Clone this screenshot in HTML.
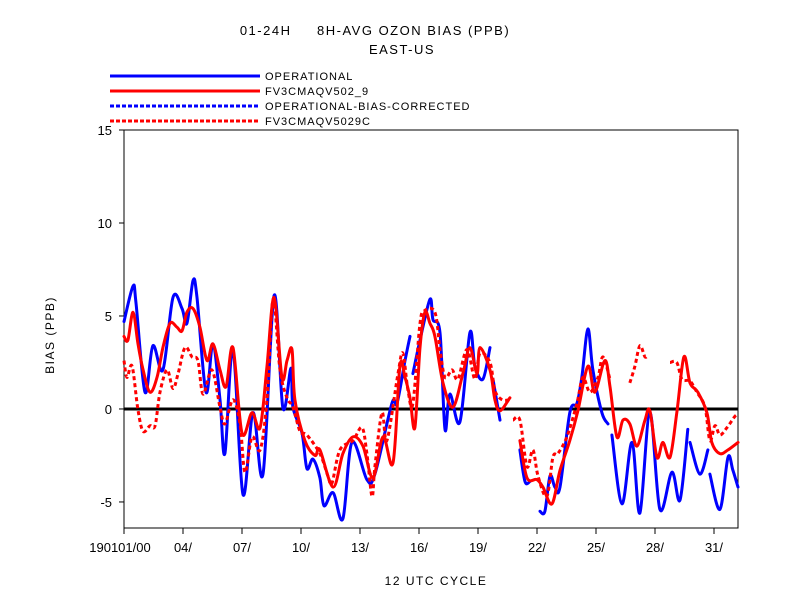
<!DOCTYPE html>
<html><head><meta charset="utf-8"><style>
body{margin:0;background:#fff;}
svg{display:block;font-family:"Liberation Sans",sans-serif;}
text{fill:#000;white-space:pre;}
</style></head><body>
<svg id="chart" width="792" height="612" viewBox="0 0 792 612">
<text x="375" y="35" text-anchor="middle" font-size="13" letter-spacing="1.5" xml:space="preserve">01-24H     8H-AVG OZON BIAS (PPB)</text>
<text x="402" y="54" text-anchor="middle" font-size="13" letter-spacing="1.5">EAST-US</text>
<g id="legend"></g>
<rect x="124" y="130" width="614" height="398" fill="none" stroke="#000" stroke-width="1"/>
<g id="axes"></g>
<g id="series"></g>
<text x="54" y="335" text-anchor="middle" font-size="12" letter-spacing="1.5" transform="rotate(-90 54 335)">BIAS (PPB)</text>
<text x="436" y="585" text-anchor="middle" font-size="12" letter-spacing="1.5">12 UTC CYCLE</text>
</svg>
<script>
const yTicks=[-5,0,5,10,15];
const xTickDays=[1,4,7,10,13,16,19,22,25,28,31];
const xTickLabels=["190101/00","04/","07/","10/","13/","16/","19/","22/","25/","28/","31/"];
const legendNames=["OPERATIONAL","FV3CMAQV502_9","OPERATIONAL-BIAS-CORRECTED","FV3CMAQV5029C"];

const opDays=[1.0,1.46,1.61,2.07,2.47,2.98,3.49,3.95,4.2,4.51,4.71,5.17,5.52,5.88,6.13,6.54,7.05,7.56,8.07,8.63,9.08,9.49,9.59,10.05,10.3,10.61,10.96,11.17,11.63,12.13,12.59,13.35,13.76,14.62,14.88,15.29,15.54,15.6,15.69,16.05,16.56,16.71,17.07,17.32,17.57,18.08,18.59,18.84,19.25,19.61,19.7,19.76,20.12,20.6,21.13,21.39,21.64,21.9,22.15,22.4,22.66,22.91,23.17,23.67,24.03,24.28,24.59,24.84,25.3,25.61,25.7,25.81,26.32,26.83,27.23,27.74,28.25,28.86,29.27,29.67,29.72,29.78,30.28,30.69,30.74,30.79,31.3,31.71,31.96,32.22];
const opVals=[4.7,6.6,5.7,0.9,3.4,2.1,6.0,5.4,4.6,6.9,6.0,0.9,3.5,0.5,-2.4,3.2,-4.6,-0.2,-3.5,6.1,0.05,2.2,0.1,-1.3,-3.2,-2.7,-3.7,-5.2,-4.5,-5.9,-1.8,-3.8,-3.5,0.3,0.3,2.6,3.9,null,1.9,3.7,5.9,4.8,4.1,-1.1,0.8,-0.7,4.1,2.3,1.6,3.3,null,1.6,-0.6,null,-2.2,-3.9,-3.9,null,-5.5,-5.5,-3.6,-4.2,-4.2,-0.2,0.3,1.7,4.3,2.1,-0.2,-0.8,null,-1.4,-5.1,-1.8,-5.6,-0.2,-5.4,-3.4,-4.9,-1.1,null,-1.8,-3.5,-2.2,null,-3.5,-5.4,-2.6,-3.3,-4.2];

const fvDays=[1.0,1.2,1.46,1.71,1.97,2.32,2.68,2.98,3.34,3.69,3.95,4.2,4.51,4.86,5.22,5.52,5.88,6.19,6.54,7.0,7.51,7.92,8.27,8.63,9.03,9.29,9.54,9.69,10.2,10.71,10.96,11.63,12.13,12.64,13.15,13.66,14.17,14.68,15.03,15.29,15.54,15.79,16.05,16.3,16.56,16.81,17.22,17.73,18.23,18.59,18.95,19.1,19.61,19.86,20.12,20.62,20.7,21.13,21.49,21.99,22.3,22.76,23.17,23.67,24.08,24.59,24.94,25.45,25.71,26.06,26.37,26.72,27.08,27.49,27.74,28.1,28.4,28.76,29.11,29.47,29.78,30.18,30.64,30.89,31.3,31.71,32.22];
const fvVals=[3.9,3.7,5.2,3.5,2.1,0.9,1.7,3.3,4.6,4.4,4.2,5.2,5.4,4.4,2.6,3.5,2.1,1.2,3.3,-1.3,-0.2,-1.0,2.3,6.0,1.7,2.6,3.2,0.5,-1.7,-2.5,-2.2,-4.2,-2.4,-1.5,-2.0,-3.7,-1.5,-2.9,2.3,1.7,0.6,-1.0,3.3,5.2,4.6,3.9,1.4,0.1,1.9,3.3,1.9,3.3,2.1,0.5,-0.1,0.6,null,-1.7,-3.7,-3.8,-4.2,-5.1,-3.3,-1.7,-0.1,2.3,0.9,2.6,1.2,-1.5,-0.6,-0.8,-2.0,-0.6,-0.1,-2.6,-1.8,-2.6,-0.2,2.8,1.4,0.9,-0.2,-1.8,-2.4,-2.2,-1.8];

const fvcDays=[1.0,1.15,1.41,1.71,1.97,2.32,2.58,2.83,3.19,3.49,3.75,4.1,4.46,4.76,5.02,5.47,5.88,6.13,6.54,6.9,7.15,7.51,7.92,8.27,8.58,8.93,9.29,9.59,9.95,10.3,10.96,11.37,11.57,11.98,12.64,13.1,13.35,13.61,13.76,14.12,14.37,14.93,15.18,15.44,15.69,16.05,16.3,16.81,17.07,17.32,17.68,17.98,18.44,18.84,19.1,19.61,19.86,20.22,20.62,20.7,20.78,21.13,21.49,21.79,22.05,22.5,22.81,23.06,23.52,24.03,24.33,24.69,25.1,25.35,25.71,26.2,26.72,26.98,27.23,27.49,27.64,28.2,28.76,29.11,29.37,29.78,30.13,30.54,30.79,31.05,31.3,31.66,32.06,32.22];
const fvcVals=[2.6,1.7,2.3,-0.05,-1.2,-0.9,-0.9,0.9,2.1,1.1,1.9,3.3,2.8,2.6,0.8,2.1,0.1,-0.8,0.5,-0.8,-3.4,-1.5,-2.2,0.5,5.9,2.1,0.6,0.1,-1.2,-1.4,-2.4,-3.6,-4.0,-2.2,-1.7,-1.0,-2.4,-4.7,-3.1,-0.2,-1.7,1.9,3.0,1.0,0.3,4.6,5.3,5.2,3.2,1.7,2.1,1.6,3.2,1.6,3.0,2.5,1.0,0.5,0.5,null,-0.6,-0.6,-3.1,-2.2,-3.6,-4.7,-2.6,-2.4,-1.5,0.3,1.7,0.9,1.7,2.8,1.6,null,1.4,2.3,3.4,2.8,2.9,null,2.5,2.5,1.6,1.5,0.9,0.1,-1.7,-0.9,-1.4,-1.0,-0.4,-0.3];

const X0=124,X1=738,Y0=528,Y1=130,DMIN=1,DMAX=32.22,VMIN=-6.4,VMAX=15;
function xs(d){return X0+(d-DMIN)/(DMAX-DMIN)*(X1-X0);}
function ys(v){return Y0-(v-VMIN)/(VMAX-VMIN)*(Y0-Y1);}
const NS="http://www.w3.org/2000/svg";
function mk(tag,attrs,parent){const e=document.createElementNS(NS,tag);for(const k in attrs)e.setAttribute(k,attrs[k]);parent.appendChild(e);return e;}
const axes=document.getElementById('axes');
yTicks.forEach(v=>{
  const t=mk('line',{x1:X0-5,x2:X0,y1:ys(v),y2:ys(v),stroke:'#000'},axes);
  
  
  const l=mk('text',{x:X0-12,y:ys(v)+5,'text-anchor':'end','font-size':'13'},axes);
  l.textContent=v;
  
  
});
xTickDays.forEach((d,i)=>{
  const t=mk('line',{x1:xs(d),x2:xs(d),y1:Y0,y2:Y0+6,stroke:'#000'},axes);
  
  
  const l=mk('text',{x:xs(d)+(i===0?-4:0),y:Y0+24,'text-anchor':'middle','font-size':'13'},axes);
  l.textContent=xTickLabels[i];
  
  
});
const zero=mk('line',{x1:X0,x2:X1,y1:ys(0),y2:ys(0),stroke:'#000','stroke-width':3},axes);



function pathD(days,vals){
  const segs=[];let cur=[];
  for(let i=0;i<days.length;i++){
    if(vals[i]===null){if(cur.length)segs.push(cur);cur=[];continue;}
    cur.push([xs(days[i]),ys(vals[i])]);
  }
  if(cur.length)segs.push(cur);
  let d='';
  segs.forEach(p=>{
    d+='M'+p[0][0].toFixed(1)+' '+p[0][1].toFixed(1);
    for(let i=0;i<p.length-1;i++){
      const p0=p[Math.max(0,i-1)],p1=p[i],p2=p[i+1],p3=p[Math.min(p.length-1,i+2)];
      const c1x=p1[0]+(p2[0]-p0[0])/6,c1y=p1[1]+(p2[1]-p0[1])/6;
      const c2x=p2[0]-(p3[0]-p1[0])/6,c2y=p2[1]-(p3[1]-p1[1])/6;
      d+='C'+c1x.toFixed(1)+' '+c1y.toFixed(1)+' '+c2x.toFixed(1)+' '+c2y.toFixed(1)+' '+p2[0].toFixed(1)+' '+p2[1].toFixed(1);
    }
  });
  return d;
}
const ser=document.getElementById('series');
const s1=mk('path',{d:pathD(opDays,opVals),fill:'none',stroke:'#0000ff','stroke-width':3,'stroke-linejoin':'round','stroke-linecap':'round'},ser);


const s2=mk('path',{d:pathD(fvDays,fvVals),fill:'none',stroke:'#ff0000','stroke-width':3,'stroke-linejoin':'round','stroke-linecap':'round'},ser);


const s3=mk('path',{d:pathD(fvcDays,fvcVals),fill:'none',stroke:'#ff0000','stroke-width':3,'stroke-dasharray':'4 3','stroke-linejoin':'round'},ser);



const lg=document.getElementById('legend');
const lcolors=['#0000ff','#ff0000','#0000ff','#ff0000'];
const ldash=['none','none','4 2','4 2'];
legendNames.forEach((n,i)=>{
  const y=76+i*15;
  const ln=mk('line',{x1:110,x2:260,y1:y,y2:y,stroke:lcolors[i],'stroke-width':3,'stroke-dasharray':ldash[i]},lg);
  
  
  const t=mk('text',{x:265,y:y+4,'font-size':'11','letter-spacing':'1'},lg);
  t.textContent=n;
  
  
});
</script>
</body></html>
